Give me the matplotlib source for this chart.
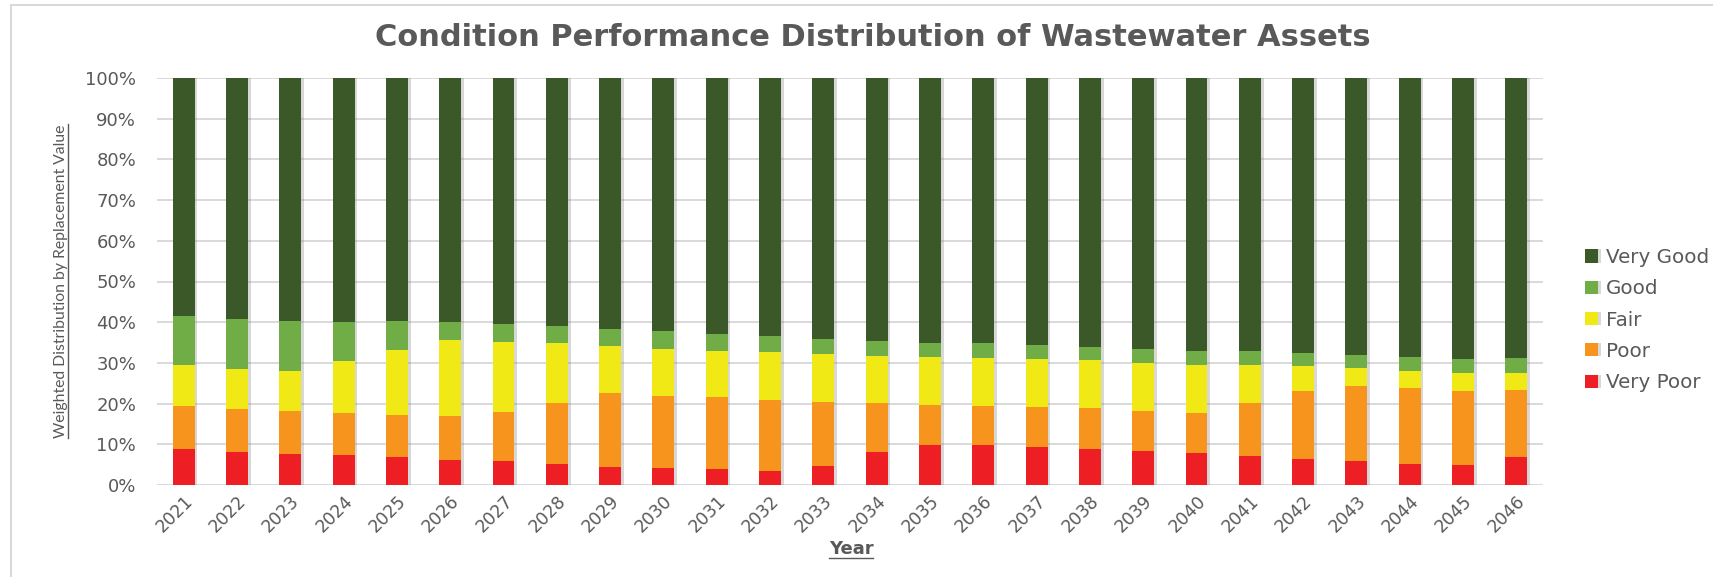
import numpy as np
import matplotlib
matplotlib.use('Agg')
import matplotlib.pyplot as plt
from matplotlib.patches import Rectangle
from matplotlib.lines import Line2D
import matplotlib.patheffects as pe

# Years on the x axis
years = [str(y) for y in range(2021, 2047)]

# Share of replacement value per condition class (%)
very_poor = [8.8, 8.1, 7.7, 7.3, 6.9, 6.2, 5.8, 5.2, 4.5, 4.1, 3.9, 3.4, 4.7,
             8.0, 9.8, 9.8, 9.4, 8.9, 8.4, 7.8, 7.1, 6.4, 5.8, 5.2, 4.9, 7.0]
poor = [10.6, 10.6, 10.5, 10.5, 10.4, 10.7, 12.2, 14.9, 18.0, 17.8, 17.6, 17.4, 15.7,
        12.1, 9.9, 9.7, 9.7, 10.0, 9.8, 10.0, 13.0, 16.6, 18.6, 18.7, 18.2, 16.4]
fair = [10.0, 9.8, 9.9, 12.6, 15.9, 18.7, 17.2, 14.7, 11.6, 11.5, 11.5, 11.8, 11.7,
        11.6, 11.8, 11.8, 11.8, 11.8, 11.8, 11.8, 9.5, 6.3, 4.3, 4.2, 4.5, 4.2]
good = [12.1, 12.2, 12.2, 9.6, 7.1, 4.4, 4.4, 4.3, 4.3, 4.4, 4.1, 3.9, 3.7,
        3.7, 3.4, 3.5, 3.4, 3.2, 3.4, 3.4, 3.4, 3.2, 3.3, 3.4, 3.3, 3.5]
very_good = [58.5, 59.3, 59.7, 60.0, 59.7, 60.0, 60.4, 60.9, 61.6, 62.2, 62.9, 63.5, 64.2,
             64.6, 65.1, 65.2, 65.7, 66.1, 66.6, 67.0, 67.0, 67.5, 68.0, 68.5, 69.1, 68.9]

series = [('Very Poor', very_poor, '#ED1F24'),
          ('Poor', poor, '#F7941E'),
          ('Fair', fair, '#F0E916'),
          ('Good', good, '#70AD47'),
          ('Very Good', very_good, '#3B5829')]

grey = '#595959'

fig = plt.figure(figsize=(17.13, 5.77), dpi=100)
ax = fig.add_axes([157/1713, 1 - 485/577, (1543 - 157)/1713, (485 - 78)/577])

x = np.arange(len(years))
bottom = np.zeros(len(years))
handles = []
shadow = [pe.SimplePatchShadow(offset=(2, 0), shadow_rgbFace='#808080', alpha=0.3), pe.Normal()]
for name, vals, col in series:
    bars = ax.bar(x, vals, width=0.41, bottom=bottom, color=col, label=name, zorder=3)
    for b in bars:
        b.set_path_effects(shadow)
    handles.append(bars)
    bottom = bottom + np.array(vals)

ax.set_xlim(-0.5, len(years) - 0.5)
ax.set_ylim(0, 100)
ax.set_yticks(np.arange(0, 101, 10))
ax.set_yticklabels([f'{v}%' for v in range(0, 101, 10)])
ax.set_xticks(x)
ax.set_xticklabels(years, rotation=45, ha='right', rotation_mode='anchor')
ax.yaxis.grid(True, color='#D9D9D9', lw=1.4, zorder=0)
ax.set_axisbelow(True)
for s in ax.spines.values():
    s.set_visible(False)
ax.tick_params(axis='y', length=0, pad=15, labelsize=13, labelcolor=grey)
ax.tick_params(axis='x', length=0, pad=5, labelsize=12.5, labelcolor=grey)

# Title and axis labels
fig.text(873/1713, 1 - 38/577, 'Condition Performance Distribution of Wastewater Assets',
         ha='center', va='center', fontsize=22, fontweight='bold', color=grey)
ylab = fig.text(61/1713, 1 - 281/577, 'Weighted Distribution by Replacement Value',
                rotation=90, ha='center', va='center', fontsize=11.3, family='Lato', color=grey)
xlab = fig.text(851/1713, 1 - 549/577, 'Year', ha='center', va='center',
                fontsize=13, fontweight='bold', color=grey)

# Legend, top entry is Very Good
leg = fig.legend(handles[::-1], [s[0] for s in series][::-1], loc='center left',
                 bbox_to_anchor=(1585/1713, 1 - 320/577), frameon=False,
                 fontsize=14.3, handlelength=0.65, handleheight=0.65, handletextpad=0.4,
                 labelspacing=0.62, borderpad=0, borderaxespad=0)
for t in leg.get_texts():
    t.set_color(grey)

# Outer border of the chart box
fig.patches.append(Rectangle((11/1713, -0.1), 1.2, 1.1 - 5/577, transform=fig.transFigure,
                             fill=False, ec='#D9D9D9', lw=1.5))

# Underlines for the axis titles
fig.canvas.draw()
r = fig.canvas.get_renderer()
inv = fig.transFigure.inverted()
bb = ylab.get_window_extent(r).transformed(inv)
fig.lines.append(Line2D([bb.x1, bb.x1], [bb.y0, bb.y1], transform=fig.transFigure,
                        color=grey, lw=1.0))
bb = xlab.get_window_extent(r).transformed(inv)
fig.lines.append(Line2D([bb.x0, bb.x1], [bb.y0, bb.y0], transform=fig.transFigure,
                        color=grey, lw=1.0))

fig.savefig('out.png', dpi=100)
